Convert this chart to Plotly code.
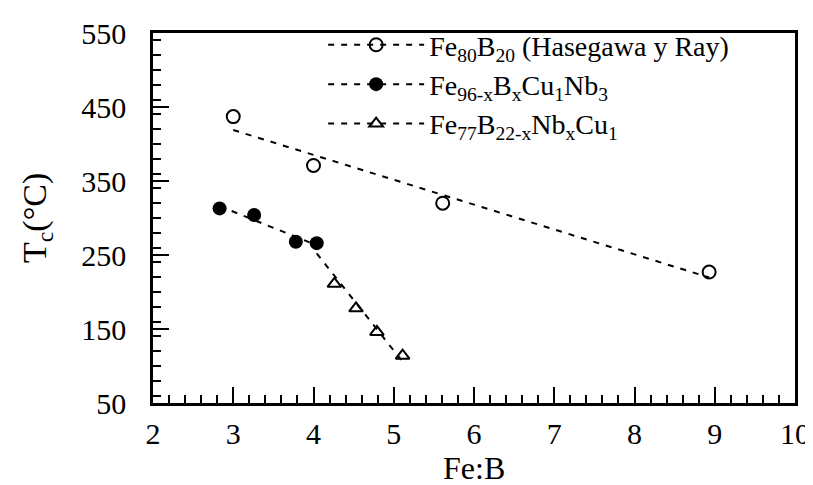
import numpy as np
import plotly.graph_objects as go

# Fe80B20 (Hasegawa y Ray)
fe80_x = [3.0, 4.0, 5.61, 8.93]
fe80_y = [437, 371, 320, 227]

# Fe96-xBxCu1Nb3
fe96_x = [2.83, 3.26, 3.78, 4.04]
fe96_y = [313, 304, 268, 266]

# Fe77B22-xNbxCu1 (the x=3 alloy is the last Fe96 point)
fe77_x = [4.26, 4.53, 4.79, 5.11]
fe77_y = [211, 178, 146, 114]

names = [
    "Fe<sub>80</sub>B<sub>20</sub> (Hasegawa y Ray)",
    "Fe<sub>96-x</sub>B<sub>x</sub>Cu<sub>1</sub>Nb<sub>3</sub>",
    "Fe<sub>77</sub>B<sub>22-x</sub>Nb<sub>x</sub>Cu<sub>1</sub>",
]

FONT = "Liberation Serif"
DASH = "6px,7px"


def fit_line(xs, ys):
    a, b = np.polyfit(xs, ys, 1)
    xx = np.array([min(xs), max(xs)])
    return xx, a * xx + b


fig = go.Figure()

series = [
    (fe80_x, fe80_y, fe80_x, fe80_y, dict(symbol="circle-open", size=13, line=dict(width=2))),
    (fe96_x, fe96_y, fe96_x, fe96_y, dict(symbol="circle", size=14)),
    (fe77_x, fe77_y, [fe96_x[-1]] + fe77_x, [fe96_y[-1]] + fe77_y,
     dict(symbol="triangle-up-open", size=12, line=dict(width=2))),
]

for (mx, my, fx, fy, mk), name in zip(series, names):
    lx, ly = fit_line(fx, fy)
    fig.add_trace(go.Scatter(x=lx, y=ly, mode="lines", showlegend=False,
                             line=dict(color="black", width=2, dash=DASH)))
    fig.add_trace(go.Scatter(x=mx, y=my, mode="markers", showlegend=False,
                             marker=dict(color="black", **mk)))
    # legend entry: dashed line with the marker in the middle
    fig.add_trace(go.Scatter(x=[None], y=[None], mode="lines+markers", name=name,
                             line=dict(color="black", width=2, dash=DASH),
                             marker=dict(color="black", **mk)))

tick_font = dict(family=FONT, size=30, color="black")

fig.update_xaxes(
    range=[2, 10], dtick=1, tick0=2,
    showline=True, linecolor="black", linewidth=2.5, mirror=True,
    ticks="inside", ticklen=16, tickwidth=2, tickcolor="black",
    showgrid=False, zeroline=False,
    tickfont=tick_font,
    minor=dict(dtick=0.2, ticks="inside", ticklen=8, tickwidth=1.5, tickcolor="black"),
    ticklabelstandoff=2,
)
fig.update_yaxes(
    range=[50, 550], dtick=100, tick0=50,
    showline=True, linecolor="black", linewidth=2.5, mirror=True,
    ticks="inside", ticklen=16, tickwidth=2, tickcolor="black",
    showgrid=False, zeroline=False,
    tickfont=tick_font,
    minor=dict(dtick=20, ticks="inside", ticklen=8, tickwidth=1.5, tickcolor="black"),
    ticklabelstandoff=18,
)

# axis titles
fig.add_annotation(text="Fe:B", xref="paper", yref="paper", x=0.5, y=0,
                   yanchor="middle", yshift=-65, showarrow=False,
                   font=dict(family=FONT, size=32, color="black"))
fig.add_annotation(text="T<sub>c</sub>(°C)", xref="paper", yref="paper", x=0, y=0.5,
                   xanchor="center", xshift=-116, textangle=-90, showarrow=False,
                   font=dict(family=FONT, size=34, color="black"))

# the page body has an 8px margin, so the figure is drawn 8px smaller
fig.update_layout(
    template="none",
    width=805, height=477,
    margin=dict(l=145, r=18, t=23, b=82),
    paper_bgcolor="white", plot_bgcolor="white",
    font=dict(family=FONT, size=30, color="black"),
    showlegend=True,
    legend=dict(x=0.265, y=1.035, xanchor="left", yanchor="top",
                bgcolor="rgba(0,0,0,0)", tracegroupgap=0,
                font=dict(family=FONT, size=28, color="black"),
                itemwidth=96),
)

fig.write_html("out.html")
